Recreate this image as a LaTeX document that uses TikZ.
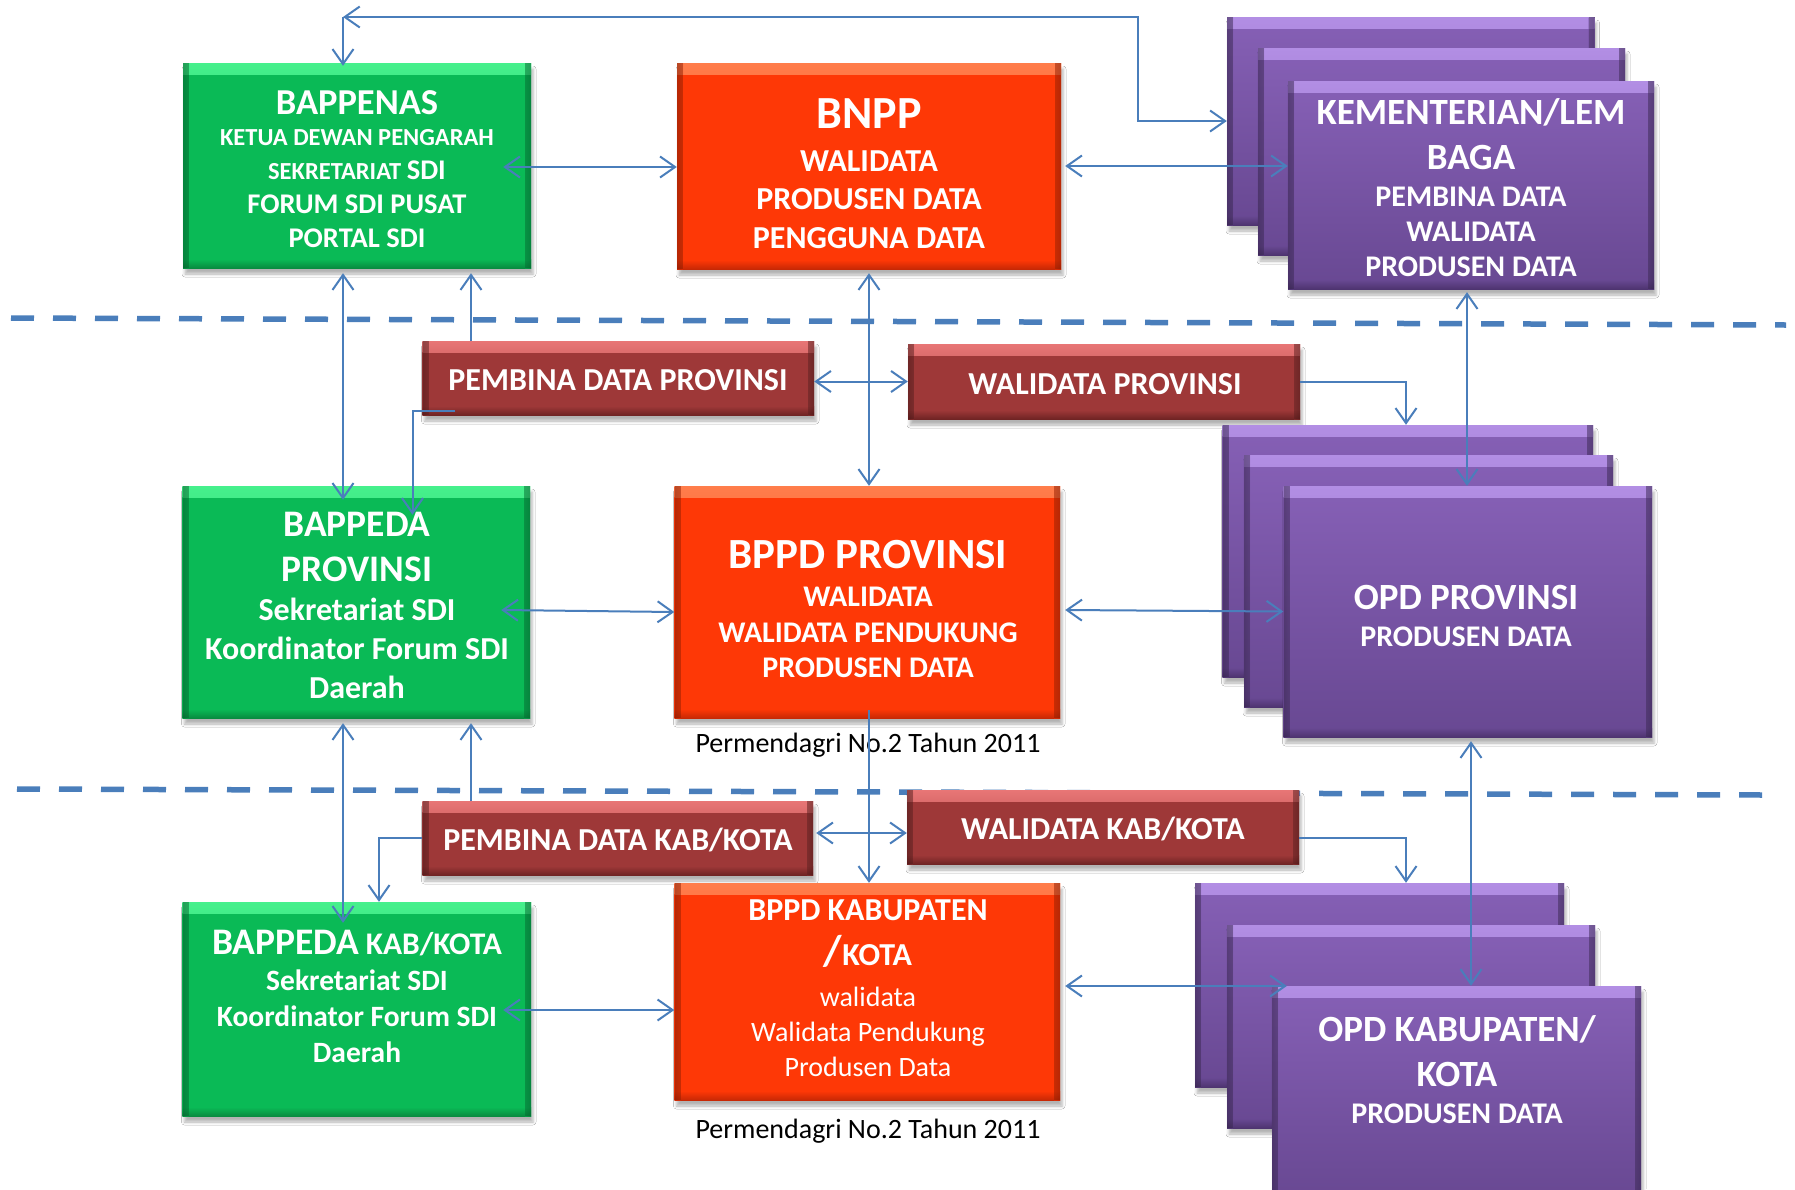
\documentclass[tikz,border=0pt]{standalone}
\usepackage{fontspec}
\setmainfont{Carlito}
\usetikzlibrary{arrows.meta,calc,shadows.blur}
\newcommand\fsz[2]{\fontsize{#1}{#2}\selectfont}
\definecolor{gLight}{RGB}{70,240,140}
\definecolor{gBase}{RGB}{10,186,86}
\definecolor{gDark}{RGB}{8,140,64}
\definecolor{oLight}{RGB}{255,125,75}
\definecolor{oBase}{RGB}{254,56,6}
\definecolor{oDark}{RGB}{200,40,5}
\definecolor{pLight}{RGB}{178,142,228}
\definecolor{pTop}{RGB}{134,96,182}
\definecolor{pBot}{RGB}{104,72,146}
\definecolor{pDark}{RGB}{78,52,112}
\definecolor{rLight}{RGB}{232,118,118}
\definecolor{rBase}{RGB}{158,56,56}
\definecolor{rDark}{RGB}{112,36,36}
\definecolor{lineblue}{RGB}{74,126,187}
\tikzset{
  bevel/.style n args={4}{top color=#2, bottom color=#3, draw=none,
    path picture={
      \fill[top color=#1, bottom color=#2] (path picture bounding box.north west) rectangle ([yshift=-11pt]path picture bounding box.north east);
      \fill[top color=#3, bottom color=#4] ([yshift=9pt]path picture bounding box.south west) rectangle (path picture bounding box.south east);
      \fill[left color=#4, right color=#3, opacity=.3] (path picture bounding box.north west) rectangle ([xshift=6pt]path picture bounding box.south west);
      \fill[left color=#3, right color=#4, opacity=.3] ([xshift=-6pt]path picture bounding box.north east) rectangle (path picture bounding box.south east);
    }},
  box/.style={rectangle, inner sep=0pt,
    blur shadow={shadow xshift=2pt, shadow yshift=-6pt, shadow blur radius=3pt, shadow opacity=30}},
  gbox/.style={box, bevel={gLight}{gBase}{gBase}{gDark}},
  obox/.style={box, bevel={oLight}{oBase}{oBase}{oDark}},
  pbox/.style={box, bevel={pLight}{pTop}{pBot}{pDark}},
  rbox/.style={box, bevel={rLight}{rBase}{rBase}{rDark}},
  txt/.style={text=white, align=center, inner sep=0pt},
  note/.style={text=black, align=center, inner sep=0pt, font=\fsz{28}{30}},
  conn/.style={draw=lineblue, line width=2pt},
  dashline/.style={draw=lineblue, line width=5.5pt, dash pattern=on 23pt off 19pt},
  >={Straight Barb[length=15pt,width=21pt]}
}
\begin{document}
\begin{tikzpicture}[x=1pt,y=-1pt]
\useasboundingbox[fill=white] (0,0) rectangle (1795,1189);

% dashed separators
\coordinate (d1a) at (11,318);
\coordinate (d1b) at (1786,325);
\coordinate (d2a) at (17,789);
\coordinate (d2b) at (1764,795);
\draw[dashline] (d1a) -- (d1b);
\draw[dashline] (d2a) -- (d2b);

% top level
\node[gbox, minimum width=348pt, minimum height=205pt] (bappenas) at (357,165.5) {};
\node[obox, minimum width=384pt, minimum height=206pt] (bnpp) at (869,166) {};
\node[pbox, minimum width=367.5pt, minimum height=208pt] (kem1) at (1410.75,121) {};
\node[pbox, minimum width=367pt, minimum height=207pt] (kem2) at (1441.5,151.5) {};
\node[pbox, minimum width=366pt, minimum height=208pt] (kem3) at (1471,185) {};

% province level
\node[rbox, minimum width=391.5pt, minimum height=74pt] (pembprov) at (618.25,378) {};
\node[rbox, minimum width=392pt, minimum height=75pt] (waliprov) at (1104,381.5) {};
\node[gbox, minimum width=347.5pt, minimum height=232pt] (bappedaprov) at (356.25,602) {};
\node[obox, minimum width=385.5pt, minimum height=232pt] (bppdprov) at (867.25,602) {};
\node[pbox, minimum width=370.5pt, minimum height=252pt] (opdp1) at (1407.75,551) {};
\node[pbox, minimum width=369pt, minimum height=252pt] (opdp2) at (1428.5,581) {};
\node[pbox, minimum width=368.5pt, minimum height=251pt] (opdp3) at (1467.75,611.5) {};

% kab/kota level
\node[rbox, minimum width=390.5pt, minimum height=74pt] (pembkab) at (617.75,838) {};
\node[rbox, minimum width=392pt, minimum height=74pt] (walikab) at (1103,827) {};
\node[gbox, minimum width=348.5pt, minimum height=214pt] (bappedakab) at (356.75,1009) {};
\node[obox, minimum width=385.5pt, minimum height=217pt] (bppdkab) at (867.25,991.5) {};
\node[pbox, minimum width=369pt, minimum height=204pt] (opdk1) at (1379.5,985) {};
\node[pbox, minimum width=368pt, minimum height=203pt] (opdk2) at (1411,1026.5) {};
\node[pbox, minimum width=369pt, minimum height=214pt] (opdk3) at (1456.5,1093) {};

% texts
\node[txt, font=\bfseries\fsz{24.5}{34}] (t-bappenas) at (357,169.5)
  {{\fsz{36.5}{34}BAPPENAS}\\[-3pt] KETUA DEWAN PENGARAH\\ SEKRETARIAT {\fsz{28.5}{34}SDI}\\ {\fsz{28.5}{34}FORUM SDI PUSAT}\\ {\fsz{28.5}{34}PORTAL SDI}};
\node[txt, font=\bfseries\fsz{32}{38.5}] (t-bnpp) at (869,173.5)
  {{\fsz{46}{38.5}BNPP}\\[4.5pt] WALIDATA\\ PRODUSEN DATA\\ PENGGUNA DATA};
\node[txt, font=\bfseries\fsz{30}{35}] (t-kem) at (1471,187.5)
  {{\fsz{37}{35}KEMENTERIAN/LEM}\\[10pt] {\fsz{37}{35}BAGA}\\[1.5pt] PEMBINA DATA\\ WALIDATA\\ PRODUSEN DATA};
\node[txt, font=\bfseries\fsz{32}{36}] (t-pembprov) at (618,380) {PEMBINA DATA PROVINSI};
\node[txt, font=\bfseries\fsz{32}{36}] (t-waliprov) at (1105,384) {WALIDATA PROVINSI};
\node[txt, font=\bfseries\fsz{32}{39}] (t-bappedaprov) at (357,605.5)
  {{\fsz{37.5}{39}BAPPEDA}\\[6pt] {\fsz{37.5}{39}PROVINSI}\\ Sekretariat SDI\\ Koordinator Forum SDI\\ Daerah};
\node[txt, font=\bfseries\fsz{30}{35.5}] (t-bppdprov) at (868,609)
  {{\fsz{43}{35.5}BPPD PROVINSI}\\[3pt] WALIDATA\\ WALIDATA PENDUKUNG\\ PRODUSEN DATA};
\node[txt, font=\bfseries\fsz{30}{37.5}] (t-opdprov) at (1466,616)
  {{\fsz{37}{37.5}OPD PROVINSI}\\ PRODUSEN DATA};
\node[note] (n-prov) at (868,745) {Permendagri No.2 Tahun 2011};
\node[txt, font=\bfseries\fsz{32}{36}] (t-pembkab) at (618,840) {PEMBINA DATA KAB/KOTA};
\node[txt, font=\bfseries\fsz{32}{36}] (t-walikab) at (1103,829) {WALIDATA KAB/KOTA};
\node[txt, font=\bfseries\fsz{29.5}{36}] (t-bappedakab) at (357,996)
  {{\fsz{37.5}{36}BAPPEDA} {\fsz{31.5}{36}KAB/KOTA}\\ Sekretariat SDI\\ Koordinator Forum SDI\\ Daerah};
\node[txt, font=\fsz{28}{35}] (t-bppdkab) at (868,988.5)
  {{\bfseries\fsz{32}{35}BPPD KABUPATEN}\\[10pt] {\bfseries{\fsz{43}{35}/}\fsz{32}{35}KOTA}\\[6pt] walidata\\ Walidata Pendukung\\ Produsen Data};
\node[txt, font=\bfseries\fsz{30}{37}] (t-opdkab) at (1457,1070)
  {{\fsz{37}{37}OPD KABUPATEN/}\\[8pt] {\fsz{37}{37}KOTA}\\ PRODUSEN DATA};
\node[note] (n-kab) at (868,1131) {Permendagri No.2 Tahun 2011};

% helper x positions
\coordinate (xA) at (343,0);
\coordinate (xB) at (471,0);
\coordinate (xC) at (869,0);
\coordinate (xD) at (1467,0);
\coordinate (xE) at (1406,0);
\coordinate (xF) at (1471,0);
\coordinate (xG) at (412.5,0);
\coordinate (xH) at (379,0);
\coordinate (topcorner) at (343,17);
\coordinate (topvert) at (1138,17);

% top route
\draw[conn,<->] (kem1.west) -| (topvert) -- (topcorner);
\draw[conn,->] (topcorner) -- ($(bappenas.north -| topcorner)+(0,3)$);

% horizontal links top
\coordinate (t1) at ($(bappenas.east)+(-28,1.5)$);
\draw[conn,<->] (t1) -- (t1 -| bnpp.west);
\coordinate (t2) at ($(bnpp.east)+(4,0)$);
\draw[conn,<->] (t2) -- (t2 -| kem3.west);

% verticals top to province
\draw[conn,<->] ($(bappenas.south -| xA)+(0,5)$) -- ($(bappedaprov.north -| xA)+(0,14)$);
\draw[conn,->] (pembprov.north -| xB) -- ($(bappenas.south -| xB)+(0,5)$);
\coordinate (p1s) at ($(pembprov.south west)+(33,-4)$);
\coordinate (p1e) at ($(bappedaprov.north -| xG)+(0,29)$);
\draw[conn,->] (p1s) -| (p1e);
\draw[conn,<->] (pembprov.east |- waliprov.west) -- (waliprov.west);
\draw[conn,<->] ($(bnpp.south -| xC)+(0,4)$) -- (bppdprov.north -| xC);
\draw[conn,->] (waliprov.east) -| (opdp1.north -| xE);
\draw[conn,<->] ($(kem3.south -| xD)+(0,3)$) -- (opdp3.north -| xD);

% province horizontals
\coordinate (m1) at ($(bappedaprov.east)+(-29,8)$);
\draw[conn,<->] (m1) -- ($(bppdprov.west)+(0,10)$);
\coordinate (m2) at ($(bppdprov.east)+(5,8)$);
\draw[conn,<->] (m2) -- (opdp3.west);

% province to kab
\draw[conn,<->] ($(bappedaprov.south -| xA)+(0,5)$) -- ($(bappedakab.north -| xA)+(0,21)$);
\draw[conn,->] (pembkab.north -| xB) -- ($(bappedaprov.south -| xB)+(0,5)$);
\draw[conn,->] (pembkab.west) -| (bappedakab.north -| xH);
\coordinate (k0) at ($(pembkab.east)+(3,-5)$);
\draw[conn,<->] (k0) -- (k0 -| walikab.west);
\draw[conn,->] ($(bppdprov.south -| xC)+(0,-8)$) -- (bppdkab.north -| xC);
\coordinate (w2) at ($(walikab.east)+(0,11)$);
\draw[conn,->] (w2) -| (opdk1.north -| xE);
\draw[conn,<->] ($(opdp3.south -| xF)+(0,4)$) -- (opdk3.north -| xF);

% kab horizontals
\coordinate (k1) at ($(bappedakab.east)+(-28,1)$);
\draw[conn,<->] (k1) -- (k1 -| bppdkab.west);
\coordinate (k2) at ($(bppdkab.east)+(5,-5.5)$);
\draw[conn,<->] (k2) -- ($(k2 -| opdk3.west)+(15,0)$);
\end{tikzpicture}
\end{document}
